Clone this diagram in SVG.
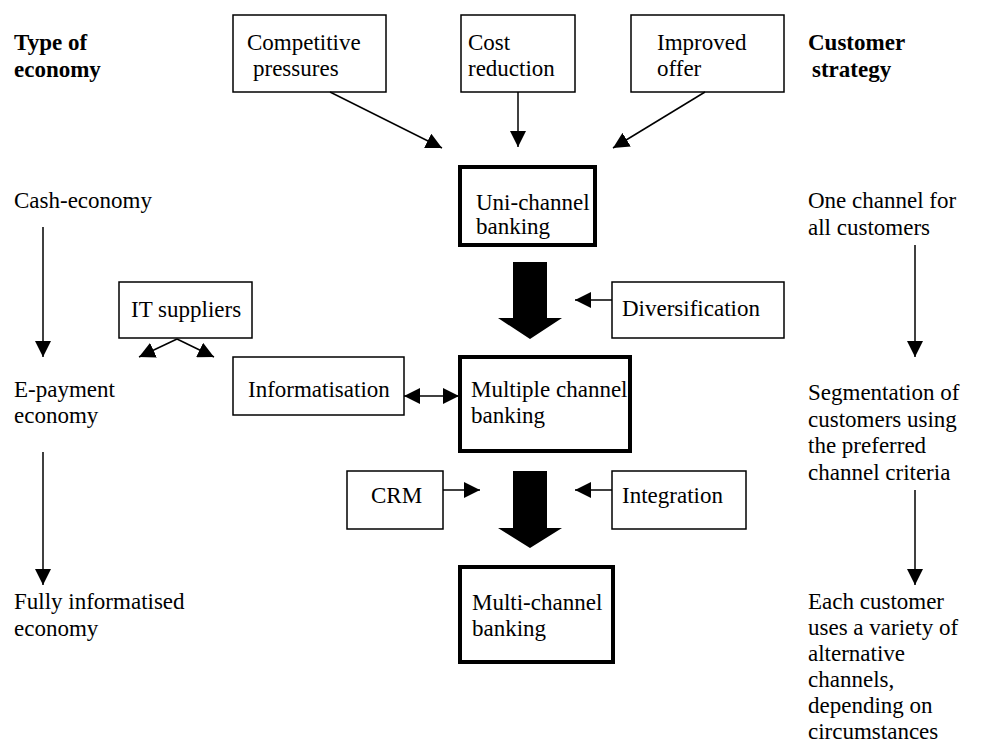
<svg xmlns="http://www.w3.org/2000/svg" width="1006" height="744" viewBox="0 0 1006 744">
<defs>
<style>
text{font-family:'Liberation Serif','Times New Roman',Tinos,'DejaVu Serif',serif;font-size:23px;fill:#000}
.b{font-weight:bold}
.box{fill:#fff;stroke:#000;stroke-width:1.5}
.thick{fill:#fff;stroke:#000;stroke-width:4}
.ln{stroke:#000;stroke-width:1.5;fill:none}
.big{fill:#000}
</style>
<marker id="ah" viewBox="0 0 16 16" refX="16" refY="8" markerWidth="16" markerHeight="16" markerUnits="userSpaceOnUse" orient="auto-start-reverse">
<path d="M0,0 L16,8 L0,16 z" fill="#000"/>
</marker>
</defs>
<rect width="1006" height="744" fill="#fff"/>

<g id="col-left">
<text class="b" x="14" y="50">Type of</text>
<text class="b" x="14" y="77">economy</text>
<text x="14" y="208">Cash-economy</text>
<text x="14" y="397">E-payment</text>
<text x="14" y="423">economy</text>
<text x="14" y="609">Fully informatised</text>
<text x="14" y="636">economy</text>
</g>

<g id="col-right">
<text class="b" x="808" y="50">Customer</text>
<text class="b" x="812" y="77">strategy</text>
<text x="808" y="208">One channel for</text>
<text x="808" y="235">all customers</text>
<text x="808" y="400">Segmentation of</text>
<text x="808" y="427">customers using</text>
<text x="808" y="453">the preferred</text>
<text x="808" y="480">channel criteria</text>
<text x="808" y="609">Each customer</text>
<text x="808" y="635">uses a variety of</text>
<text x="808" y="661">alternative</text>
<text x="808" y="687">channels,</text>
<text x="808" y="713">depending on</text>
<text x="808" y="739">circumstances</text>
</g>

<g id="competitive">
<rect class="box" x="233" y="15" width="153" height="77"/>
<text x="247" y="50">Competitive</text>
<text x="253" y="76">pressures</text>
</g>
<g id="cost">
<rect class="box" x="461" y="15" width="114" height="77"/>
<text x="468" y="50">Cost</text>
<text x="468" y="76">reduction</text>
</g>
<g id="improved">
<rect class="box" x="631" y="15" width="153" height="77"/>
<text x="657" y="50">Improved</text>
<text x="657" y="76">offer</text>
</g>
<g id="uni">
<rect class="thick" x="460" y="167" width="135" height="78"/>
<text x="476" y="210">Uni-channel</text>
<text x="476" y="234">banking</text>
</g>
<g id="it">
<rect class="box" x="119" y="282" width="133" height="56"/>
<text x="131" y="317">IT suppliers</text>
</g>
<g id="diversification">
<rect class="box" x="612" y="282" width="172" height="56"/>
<text x="622" y="316">Diversification</text>
</g>
<g id="informatisation">
<rect class="box" x="233" y="357" width="171" height="58"/>
<text x="248" y="397">Informatisation</text>
</g>
<g id="multiple">
<rect class="thick" x="460" y="357" width="170" height="94"/>
<text x="471" y="397">Multiple channel</text>
<text x="471" y="423">banking</text>
</g>
<g id="crm">
<rect class="box" x="347" y="471" width="96" height="58"/>
<text x="371" y="503">CRM</text>
</g>
<g id="integration">
<rect class="box" x="612" y="471" width="134" height="58"/>
<text x="622" y="503">Integration</text>
</g>
<g id="multichannel">
<rect class="thick" x="460" y="567" width="153" height="95"/>
<text x="472" y="610">Multi-channel</text>
<text x="472" y="636">banking</text>
</g>

<g id="connectors">
<line class="ln" x1="43" y1="227" x2="43" y2="357" marker-end="url(#ah)"/>
<line class="ln" x1="43" y1="452" x2="43" y2="585" marker-end="url(#ah)"/>
<line class="ln" x1="915" y1="245" x2="915" y2="357" marker-end="url(#ah)"/>
<line class="ln" x1="915" y1="490" x2="915" y2="585" marker-end="url(#ah)"/>
<line class="ln" x1="330" y1="92" x2="442" y2="148" marker-end="url(#ah)"/>
<line class="ln" x1="518" y1="92" x2="518" y2="147" marker-end="url(#ah)"/>
<line class="ln" x1="705" y1="92" x2="613" y2="148" marker-end="url(#ah)"/>
<line class="ln" x1="612" y1="300" x2="575" y2="300" marker-end="url(#ah)"/>
<line class="ln" x1="177" y1="339" x2="139" y2="357" marker-end="url(#ah)"/>
<line class="ln" x1="177" y1="339" x2="214" y2="357" marker-end="url(#ah)"/>
<line class="ln" x1="404" y1="396" x2="459" y2="396" marker-start="url(#ah)" marker-end="url(#ah)"/>
<line class="ln" x1="443" y1="490" x2="480" y2="490" marker-end="url(#ah)"/>
<line class="ln" x1="612" y1="490" x2="575" y2="490" marker-end="url(#ah)"/>
<path class="big" d="M513,262 L547,262 L547,318 L562,318 L530,339 L498,318 L513,318 Z"/>
<path class="big" d="M513,471 L547,471 L547,528 L562,528 L530,548 L498,528 L513,528 Z"/>
</g>
</svg>
